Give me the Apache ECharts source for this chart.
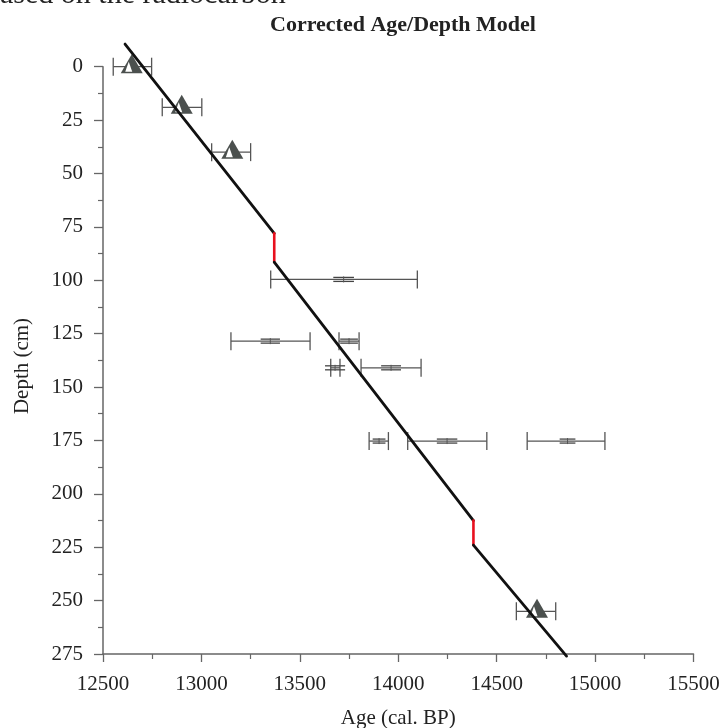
<!DOCTYPE html>
<html><head><meta charset="utf-8">
<script src="https://cdn.jsdelivr.net/npm/echarts@6/dist/echarts.min.js"></script>
<style>html,body{margin:0;padding:0;background:#fff}#c{width:723px;height:728px}</style>
</head><body><div id="c"></div>
<script>
// Age-depth model line (vertices)
var modelAge   = [12612, 13370, 13370, 14382, 14382, 14855];
var modelDepth = [-10.6, 78, 91.5, 212.5, 224, 276];
// Dated (triangle) points with error ranges
var triDepth = [0, 19, 40, 255];
var triAge   = [12646, 12900, 13157, 14705];
var triLow   = [12552, 12801, 13052, 14600];
var triHigh  = [12747, 13002, 13250, 14800];
// Calibrated ranges (outer and inner)
var calDepth  = [99.6, 128.5, 128.5, 141, 141, 175.3, 175.3, 175.3];
var calLow    = [13352, 13150, 13699, 13657, 13811, 13852, 14048, 14655];
var calHigh   = [14097, 13552, 13801, 13704, 14116, 13950, 14450, 15050];
var innerLow  = [13670, 13301, 13705, 13628, 13913, 13870, 14196, 14820];
var innerHigh = [13775, 13399, 13795, 13730, 14014, 13935, 14300, 14900];
// Axis ticks
var xTicks = [12500, 13000, 13500, 14000, 14500, 15000, 15500];
var yTicks = [0, 25, 50, 75, 100, 125, 150, 175, 200, 225, 250, 275];

var FONT = 'Liberation Serif';
var chart = echarts.init(document.getElementById('c'), null, {renderer: 'canvas'});

var segs = [];
for (var i = 0; i < modelAge.length - 1; i++) {
  segs.push([modelAge[i], modelDepth[i], modelAge[i+1], modelDepth[i+1], modelAge[i] === modelAge[i+1] ? 1 : 0]);
}
var triBars = triDepth.map(function(d, i){ return [triLow[i], triHigh[i], d]; });
var calBars = calDepth.map(function(d, i){ return [calLow[i], calHigh[i], d, innerLow[i], innerHigh[i]]; });

function errRender(params, api) {
  var lo = api.coord([api.value(0), api.value(2)]);
  var hi = api.coord([api.value(1), api.value(2)]);
  var st = {stroke: '#555', lineWidth: 1.3};
  var ch = 9;
  var kids = [
    {type: 'line', shape: {x1: lo[0], y1: lo[1], x2: hi[0], y2: hi[1]}, style: st},
    {type: 'line', shape: {x1: lo[0], y1: lo[1]-ch, x2: lo[0], y2: lo[1]+ch}, style: st},
    {type: 'line', shape: {x1: hi[0], y1: hi[1]-ch, x2: hi[0], y2: hi[1]+ch}, style: st}
  ];
  return {type: 'group', children: kids};
}
function calRender(params, api) {
  var g = errRender(params, api);
  var a = api.coord([api.value(3), api.value(2)]);
  var b = api.coord([api.value(4), api.value(2)]);
  var st = {stroke: '#444', lineWidth: 1.3};
  g.children.push(
    {type: 'line', shape: {x1: a[0], y1: a[1]-2, x2: b[0], y2: b[1]-2}, style: st},
    {type: 'line', shape: {x1: a[0], y1: a[1]+2, x2: b[0], y2: b[1]+2}, style: st},
    {type: 'line', shape: {x1: (a[0]+b[0])/2, y1: a[1]-3, x2: (a[0]+b[0])/2, y2: a[1]+3}, style: {stroke:'#555', lineWidth:1}}
  );
  return g;
}

var option = {
  backgroundColor: '#fff',
  animation: false,
  title: {
    text: 'Corrected Age/Depth Model',
    left: 398, top: 9, textAlign: 'center',
    textStyle: {fontFamily: FONT, fontWeight: 'bold', fontSize: 22, color: '#222'}
  },
  graphic: [
    {type: 'text', left: -15, top: -20, style: {text: 'based on the radiocarbon', font: '30px "Liberation Serif"', fill: '#222'}},
    {type: 'text', x: 22, y: 366, rotation: Math.PI/2, style: {text: 'Depth (cm)', font: '21px "Liberation Serif"', fill: '#222', align: 'center', verticalAlign: 'middle'}}
  ],
  grid: {left: 103, right: 29.5, top: 66.7, bottom: 74, containLabel: false, outerBoundsMode: 'none'},
  xAxis: {
    type: 'value', min: xTicks[0], max: xTicks[xTicks.length-1], interval: 500,
    name: 'Age (cal. BP)', nameLocation: 'middle', nameGap: 54,
    nameTextStyle: {fontFamily: FONT, fontSize: 21, color: '#222'},
    axisLine: {show: true, onZero: false, lineStyle: {color: '#666', width: 1.5}},
    axisTick: {show: true, inside: false, length: 8, lineStyle: {color: '#666', width: 1.3}},
    minorTick: {show: true, splitNumber: 2, length: 5, lineStyle: {color: '#666', width: 1.2}},
    splitLine: {show: false},
    axisLabel: {fontFamily: FONT, fontSize: 21, color: '#222', margin: 20,
      formatter: function(v){ return xTicks.indexOf(v) >= 0 ? String(v) : ''; }}
  },
  yAxis: {
    type: 'value', inverse: true, min: yTicks[0], max: yTicks[yTicks.length-1], interval: 25,
    axisLine: {show: true, onZero: false, lineStyle: {color: '#666', width: 1.5}},
    axisTick: {show: true, inside: false, length: 9, lineStyle: {color: '#666', width: 1.3}},
    minorTick: {show: true, splitNumber: 2, length: 5, lineStyle: {color: '#666', width: 1.2}},
    splitLine: {show: false},
    axisLabel: {fontFamily: FONT, fontSize: 21, color: '#222', margin: 20,
      formatter: function(v){ return yTicks.indexOf(v) >= 0 ? String(v) : ''; }}
  },
  series: [
    {type: 'custom', name: 'cal', data: calBars, renderItem: calRender, clip: false, z: 2},
    {type: 'custom', name: 'triErr', data: triBars, renderItem: errRender, clip: false, z: 2},
    {type: 'scatter', name: 'tri', data: triAge.map(function(a,i){return [a, triDepth[i]];}),
      symbol: 'triangle', symbolSize: [22, 19], symbolOffset: [0, -3],
      itemStyle: {color: '#4b504e', opacity: 1}, clip: false, z: 3},
    {type: 'scatter', name: 'triInner', data: triAge.map(function(a,i){return [a, triDepth[i]];}),
      symbol: 'triangle', symbolSize: [7, 10], symbolOffset: [-3, 0],
      itemStyle: {color: '#fff', opacity: 1}, clip: false, z: 4},
    {type: 'custom', name: 'model', data: segs, clip: false, z: 5,
      renderItem: function(params, api){
        var p1 = api.coord([api.value(0), api.value(1)]);
        var p2 = api.coord([api.value(2), api.value(3)]);
        var red = api.value(4) === 1;
        return {type: 'line', shape: {x1: p1[0], y1: p1[1], x2: p2[0], y2: p2[1]},
          style: {stroke: red ? '#e8101e' : '#111', lineWidth: red ? 2.6 : 2.8, lineCap: 'round'}};
      }}
  ]
};
chart.setOption(option);
</script>
</body></html>
